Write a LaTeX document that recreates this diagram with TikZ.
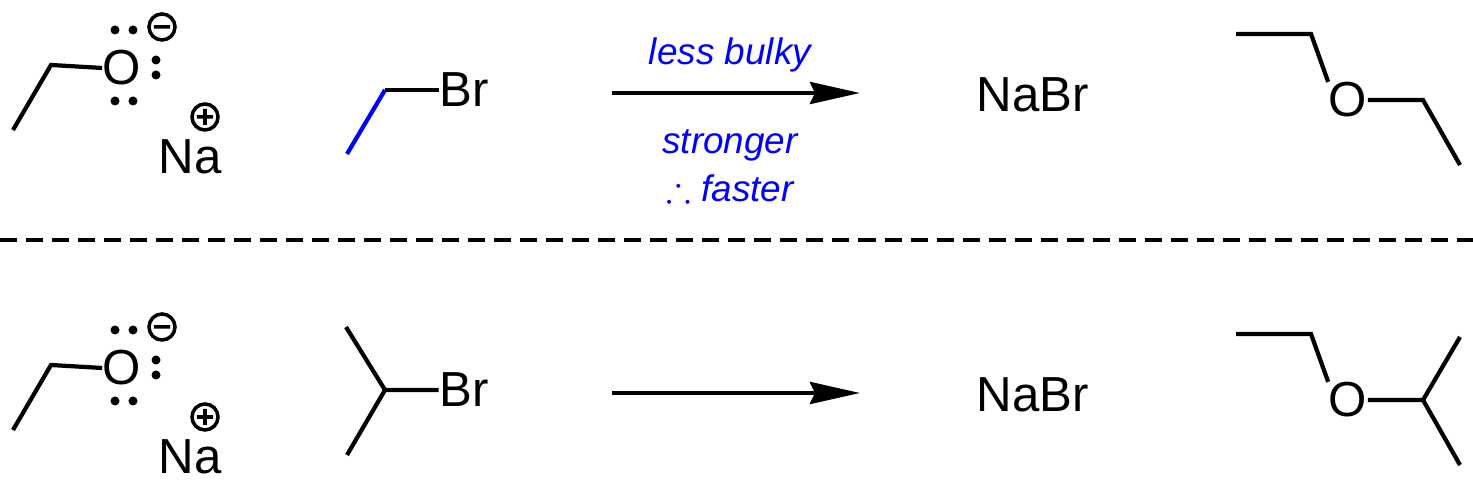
\documentclass[tikz,border=0pt]{standalone}
\usepackage{amssymb}
\usepackage{fontspec}
\setmainfont{Liberation Sans}
\usetikzlibrary{arrows.meta,positioning}

\begin{document}
\begin{tikzpicture}[
    x=0.01cm, y=-0.01cm,
    bond/.style={line width=1.2pt},
    atom/.style={font=\fontsize{14}{16}\selectfont, inner sep=0pt},
    note/.style={font=\fontsize{10.5}{12}\selectfont\itshape, text=blue, inner sep=0pt},
    charge/.style={line width=1pt},
    lp/.style={circle, fill, inner sep=0pt, minimum size=0.09cm},
    arrow/.style={-{Stealth[length=0.5cm, width=0.22cm, inset=0.05cm]}, line width=1.2pt}
]
\useasboundingbox (0,0) rectangle (1473,495);

% two rows, 300 px apart
\foreach \row/\dy in {top/0, bot/300}{
  \begin{scope}[yshift=-\dy*0.01cm]
    % sodium ethoxide
    \node[atom] (O-\row) at (122,68) {O};
    \draw[bond] (13,130) -- (51,65) -- (O-\row.west);
    \foreach \px/\py in {115/30, 133/30, 156/60, 156/75, 115/101, 133/101}
      \node[lp] at (\px,\py) {};
    \coordinate (minus-\row) at (162,27);
    \draw[charge] (minus-\row) circle[radius=0.13cm] ([xshift=-0.08cm]minus-\row) -- ([xshift=0.08cm]minus-\row);
    \coordinate (plus-\row) at (205,117);
    \draw[charge] (plus-\row) circle[radius=0.13cm]
      ([xshift=-0.08cm]plus-\row) -- ([xshift=0.08cm]plus-\row)
      ([yshift=-0.08cm]plus-\row) -- ([yshift=0.08cm]plus-\row);
    \node[atom] (Na-\row) at (190,157) {Na};
    % sodium bromide
    \node[atom] (NaBr-\row) at (1033,95) {NaBr};
    % reaction arrow
    \coordinate (rs-\row) at (612,93);
    \coordinate (re-\row) at (860,93);
    \draw[arrow] (rs-\row) -- (re-\row);
    % ether, ethyl part
    \node[atom] (Oe-\row) at (1348,100) {O};
    \draw[bond] (1236,34) -- (1311,34) -- (Oe-\row.north west);
  \end{scope}
}

% ethyl bromide
\node[atom] (Br-top) at (464,90) {Br};
\draw[bond, blue] (347,154) -- (385,90);
\draw[bond] (385,90) -- (Br-top.west);
\node[note] (bulky) at (730,55) {less bulky};
\node[note] (stronger) at (730,145) {stronger};
\node[note] (faster) at (730,188) {$\therefore$ faster};

% diethyl ether
\draw[bond] (Oe-top.east) -- (1423,100) -- (1460,165);

% isopropyl bromide
\node[atom] (Br-bot) at (464,390) {Br};
\draw[bond] (346,327) -- (385,390) -- (Br-bot.west);
\draw[bond] (385,390) -- (347,455);

% ethyl isopropyl ether
\draw[bond] (Oe-bot.east) -- (1423,400) -- (1460,337);
\draw[bond] (1423,400) -- (1460,465);

% separator
\draw[line width=1.4pt, dash pattern=on 0.17cm off 0.09cm] (0,240) -- (1473,240);
\end{tikzpicture}
\end{document}
